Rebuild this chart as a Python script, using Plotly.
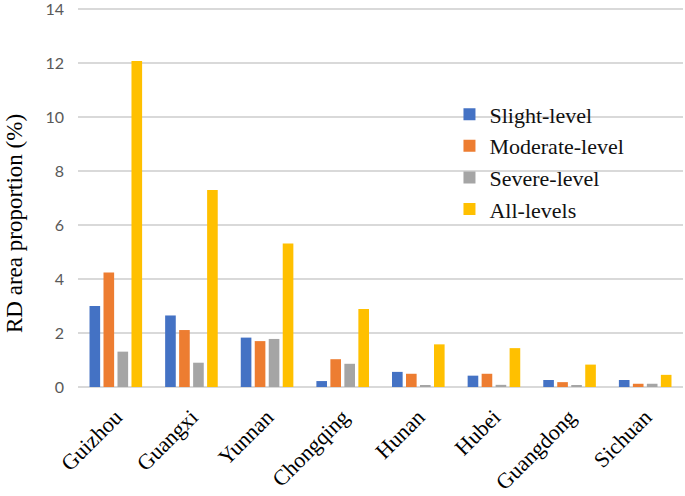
import plotly.graph_objects as go

provinces = ["Guizhou", "Guangxi", "Yunnan", "Chongqing", "Hunan", "Hubei", "Guangdong", "Sichuan"]
slight = [3.00, 2.65, 1.83, 0.22, 0.56, 0.42, 0.26, 0.26]
moderate = [4.24, 2.11, 1.70, 1.03, 0.49, 0.49, 0.18, 0.12]
severe = [1.31, 0.90, 1.78, 0.86, 0.05, 0.08, 0.04, 0.12]
all_levels = [12.08, 7.30, 5.32, 2.89, 1.58, 1.44, 0.83, 0.45]

series_names = ["Slight-level", "Moderate-level", "Severe-level", "All-levels"]
series_values = [slight, moderate, severe, all_levels]
colors = ["#4472C4", "#ED7D31", "#A5A5A5", "#FFC000"]
y_ticks = [0, 2, 4, 6, 8, 10, 12, 14]
y_ticktext = [str(v) for v in y_ticks]

fig = go.Figure()
for name, vals, col in zip(series_names, series_values, colors):
    fig.add_trace(go.Bar(x=provinces, y=vals, name=name, marker_color=col,
                         marker_line_width=0))

fig.update_layout(
    width=685, height=496,
    margin=dict(l=78, r=2, t=1, b=109, autoexpand=False),
    paper_bgcolor="white", plot_bgcolor="white",
    barmode="group", bargap=0.26, bargroupgap=0.24,
    legend=dict(x=0.614, y=0.583, xanchor="left", yanchor="middle",
                font=dict(family="Liberation Serif", size=22, color="#111111"),
                bgcolor="rgba(0,0,0,0)", tracegroupgap=0, itemwidth=30),
    xaxis=dict(tickangle=-45, tickfont=dict(family="Liberation Serif", size=22, color="#000000"),
               showline=False, showgrid=False, ticks="", automargin=False,
               ticklabelstandoff=12),
    yaxis=dict(range=[0, 14.3], tickmode="array", tickvals=y_ticks, ticktext=y_ticktext,
               showgrid=True, gridcolor="#D9D9D9", gridwidth=1.5,
               zeroline=True, zerolinecolor="#D9D9D9", zerolinewidth=1.5, automargin=False,
               tickfont=dict(family="Lato", size=16, color="#595959"), ticks="", ticklen=0,
               ticklabelstandoff=13, ticklabeloverflow="allow"),
    annotations=[dict(text="RD area proportion (%)", textangle=-90, xref="paper", yref="paper",
                      x=0, y=0.5, xanchor="center", yanchor="middle", xshift=-64, yshift=-30,
                      showarrow=False,
                      font=dict(family="Liberation Serif", size=23, color="#000000"))],
)

fig.write_html("out.html", config={"displayModeBar": False},
               post_script="document.body.style.margin='0';document.body.style.overflow='hidden';")
